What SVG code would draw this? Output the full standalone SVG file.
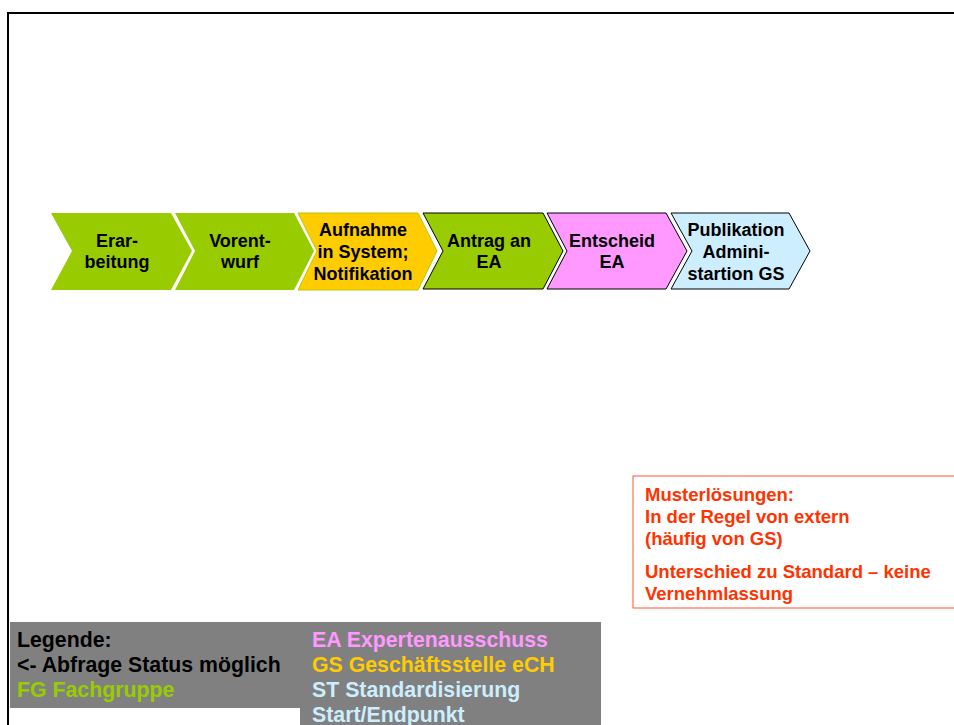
<svg xmlns="http://www.w3.org/2000/svg" width="954" height="725" viewBox="0 0 954 725">
<style>
.t{font-family:"Liberation Sans",Arial,sans-serif;font-weight:bold;}
.lbl{font-size:18px;fill:#000;text-anchor:middle;}
.leg{font-size:21.3px;}
.red{font-size:18.5px;fill:#ff3300;}
.green{fill:#99cc00;}
</style>
<rect width="954" height="725" fill="#fff"/>
<rect x="8" y="13" width="1000" height="800" fill="none" stroke="#000" stroke-width="2"/>
<g id="connectors"/>
<g id="n1">
<polygon class="green" points="51,213 171,213 192,251 171,290 51,290 72,251"/>
<text class="t lbl" x="117" y="247">Erar-</text>
<text class="t lbl" x="117" y="268">beitung</text>
</g>
<g id="n2">
<polygon class="green" points="175,213 294,213 314,251 294,290 175,290 195,251"/>
<text class="t lbl" x="240" y="247">Vorent-</text>
<text class="t lbl" x="240" y="268">wurf</text>
</g>
<g id="n3">
<polygon fill="#ffcc00" stroke="#b8c800" stroke-width="1" points="298,213 418,213 437,251 418,290 298,290 317,251"/>
<text class="t lbl" x="363" y="236">Aufnahme</text>
<text class="t lbl" x="363" y="258">in System;</text>
<text class="t lbl" x="363" y="280">Notifikation</text>
</g>
<g id="n4">
<polygon class="green" stroke="#000" stroke-width="1" points="423,213 543,213 563,251 543,289 423,289 443,251"/>
<text class="t lbl" x="489" y="247">Antrag an</text>
<text class="t lbl" x="489" y="268">EA</text>
</g>
<g id="n5">
<polygon fill="#ff99ff" stroke="#000" stroke-width="1" points="547,213 666,213 687,251 666,289 547,289 567,251"/>
<text class="t lbl" x="612" y="247">Entscheid</text>
<text class="t lbl" x="612" y="268">EA</text>
</g>
<g id="n6">
<polygon fill="#cceeff" stroke="#000" stroke-width="1" points="671,213 789,213 810,251 789,289 671,289 692,251"/>
<text class="t lbl" x="736" y="236">Publikation</text>
<text class="t lbl" x="736" y="258">Admini-</text>
<text class="t lbl" x="736" y="280">startion GS</text>
</g>
<g id="note">
<rect x="633" y="476" width="340" height="132" fill="#fff" stroke="#ff5533" stroke-width="1"/>
<text class="t red" x="645" y="501">Musterlösungen:</text>
<text class="t red" x="645" y="523">In der Regel von extern</text>
<text class="t red" x="645" y="545">(häufig von GS)</text>
<text class="t red" x="645" y="578">Unterschied zu Standard – keine</text>
<text class="t red" x="645" y="600">Vernehmlassung</text>
</g>
<g id="legend">
<path d="M10,622 H601 V725 H300 V708 H10 Z" fill="#808080"/>
<text class="t leg" x="17" y="647" fill="#000">Legende:</text>
<text class="t leg" x="17" y="672" fill="#000">&lt;- Abfrage Status möglich</text>
<text class="t leg" x="17" y="697" fill="#99cc00">FG Fachgruppe</text>
<text class="t leg" x="312" y="647" fill="#ff99ff">EA Expertenausschuss</text>
<text class="t leg" x="312" y="672" fill="#ffcc00">GS Geschäftsstelle eCH</text>
<text class="t leg" x="312" y="697" fill="#cceeff">ST Standardisierung</text>
<text class="t leg" x="312" y="722" fill="#cceeff">Start/Endpunkt</text>
</g>
</svg>
